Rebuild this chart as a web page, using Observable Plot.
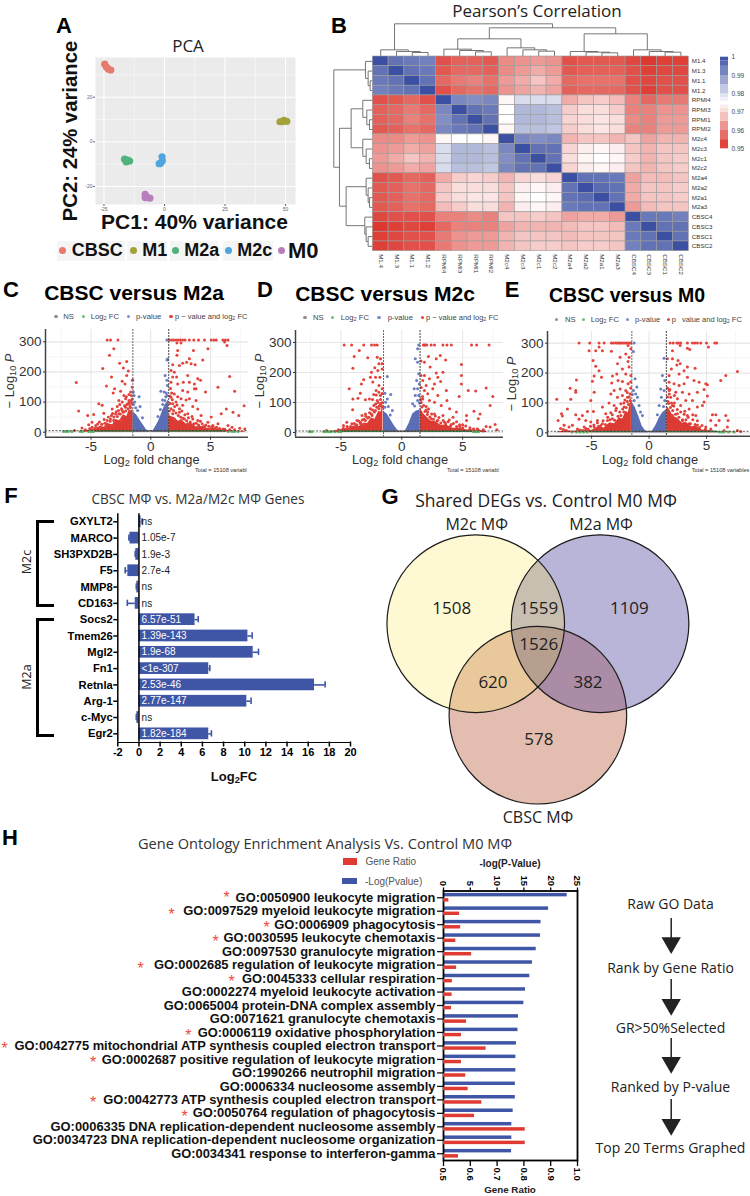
<!DOCTYPE html>
<html><head><meta charset="utf-8">
<script src="https://cdn.jsdelivr.net/npm/d3@7"></script>
<script src="https://cdn.jsdelivr.net/npm/@observablehq/plot@0.6"></script>
<style>
html,body{margin:0;padding:0;background:#fff}
#page{position:relative;width:750px;height:1196px;overflow:hidden;background:#fff;font-family:"Liberation Sans",Arial,sans-serif}
.t{position:absolute;white-space:nowrap;line-height:1.1}
sub{font-size:.72em;vertical-align:-.25em;line-height:0}
</style></head><body><div id="page"></div>
<script>
// ---------- A: PCA ----------
const pcaGroups=["CBSC","M1","M2a","M2c","M0"];
const pcaColors=["#e8796e","#a3a23a","#50b27c","#4fa6df","#b87fbc"];
const pcaCBSC=[[-24.7,34.8],[-24,33.5],[-23.2,32.6],[-22.2,32.2]];
const pcaM1=[[47.7,9],[48.6,9],[49.3,9.6],[50.5,9.2]];
const pcaM2a=[[-16.5,-7.8],[-15.8,-9],[-15.2,-8.2],[-14.4,-8.6]];
const pcaM2c=[[-2.2,-9.8],[-1.5,-9.5],[-0.9,-8.5],[-1,-6.7]];
const pcaM0=[[-8,-23.5],[-8,-25],[-7,-25],[-6,-25.2]];
// ---------- B: correlation ----------
const heatLabels=["M1.4","M1.3","M1.1","M1.2","RPMI4","RPMI3","RPMI1","RPMI2","M2c4","M2c3","M2c1","M2c2","M2a4","M2a2","M2a1","M2a3","CBSC4","CBSC3","CBSC1","CBSC2"];
const heatRows=[
[1000,995,994,993,954,956,956,955,961,962,963,962,954,955,955,955,953,951,952,952],
[995,1000,995,994,955,957,957,956,961,963,965,963,955,956,956,956,954,952,953,953],
[994,995,1000,995,957,959,960,958,963,965,968,965,957,958,958,958,954,953,954,954],
[993,994,995,1000,954,957,958,957,962,964,966,964,956,957,957,957,954,952,954,954],
[954,955,957,954,1000,992,991,992,974,980,980,980,965,968,969,967,960,957,959,959],
[956,957,959,957,992,1000,995,994,975,985,985,984,969,971,971,969,960,960,962,962],
[956,957,960,958,991,995,1000,995,975,985,985,984,970,971,972,971,961,960,963,963],
[955,956,958,957,992,994,995,1000,974,984,984,983,969,971,972,971,960,960,963,963],
[961,961,963,962,974,975,975,974,1000,992,991,992,966,968,968,966,968,964,966,966],
[962,963,965,964,980,985,985,984,992,1000,995,995,970,973,974,973,968,966,968,968],
[963,965,968,966,980,985,985,984,991,995,1000,995,971,974,975,974,969,966,968,969],
[962,963,965,964,980,984,984,983,992,995,995,1000,970,973,974,973,968,966,968,969],
[954,955,957,956,965,969,970,969,966,970,971,970,1000,995,995,994,964,967,967,968],
[955,956,958,957,968,971,971,971,968,973,974,973,995,1000,996,995,965,968,968,969],
[955,956,958,957,969,971,972,972,968,974,975,974,995,996,1000,995,965,968,968,969],
[955,956,958,957,967,969,971,971,966,973,974,973,994,995,995,1000,963,967,968,968],
[953,954,954,954,960,960,961,960,968,968,969,968,964,965,965,963,1000,994,994,993],
[951,952,953,952,957,960,960,960,964,966,966,966,967,968,968,967,994,1000,995,995],
[952,953,954,954,959,962,963,963,966,968,968,968,967,968,968,968,994,995,1000,995],
[952,953,954,954,959,962,963,963,966,968,969,969,968,969,969,968,993,995,995,1000]];
// merges: [posA, posB, height of the join, height of A, height of B]
const colTree=[[2.5,3.5,12,0,0],[1.5,3,15,0,12],[.5,2.25,20,0,15],[6.5,7.5,14,0,0],[5.5,7,18,0,14],[4.5,6.25,22,0,18],[10.5,11.5,16,0,0],[9.5,11,20,0,16],[8.5,10.25,26,0,20],[14.5,15.5,11,0,0],[13.5,15,13,0,11],[12.5,14.25,15,0,13],[18.5,19.5,13,0,0],[17.5,19,15,0,13],[16.5,18.25,20,0,15],[5.375,9.375,53,22,26],[13.375,17.375,68,15,20],[7.375,15.375,86,53,68],[1.375,11.375,98,20,86]];
const rowTree=[[2.5,3.5,8,0,0],[1.5,3,14,0,8],[.5,2.25,22,0,14],[6.5,7.5,10,0,0],[5.5,7,18,0,10],[4.5,6.25,30,0,18],[10.5,11.5,10,0,0],[9.5,11,20,0,10],[8.5,10.25,30,0,20],[14.5,15.5,10,0,0],[13.5,15,14,0,10],[12.5,14.25,20,0,14],[18.5,19.5,14,0,0],[17.5,19,20,0,14],[16.5,18.25,24,0,20],[5.375,9.375,65,30,30],[13.375,17.375,80,20,24],[7.375,15.375,100,65,80],[1.375,11.375,117,22,100]];
const barStops=[.95,.955,.96,.965,.97,.972,.974,.976,.978,.98,.985,.99,.995,.998,1];
// ---------- C: CBSC vs M2a ----------
const cTopX=[-3.65,-3.37,-2.75,1.55,1.74,1.91,2.11,2.3,2.47,2.67,2.87,3.23,3.6,3.99,4.49,5.06,5.28,5.48,6.04,6.24,6.46];
const cRed=[[-3.09,277],[-3.46,255],[-2.02,235],[-2.61,229],[-4.02,211],[-1.88,203],[-2.3,213],[-6.24,165],[-3.29,183],[-2.02,188],[-2.39,169],[-3.71,153],[-3.03,144],[-2.16,160],[-1.55,172],[-1.55,149],[-3.15,130],[-2.53,136],[-1.69,133],[-2.25,122],[-1.83,125],[-4.35,94],[-4.07,89],[-6.04,70],[-2.67,105],[-2.39,100],[-2.11,111],[-1.83,105],[-1.63,122],[-2.81,85],[-3.23,77],[-3.93,63],[-4.78,59],[-5.28,55],[-4.92,33],[-5.2,25],[-5.48,8],[-6.38,6],[-5.76,14],[-3.65,39],[-3.37,44],[-3.09,50],[-2.67,61],[-2.39,72],[-2.11,83],[-1.91,94],[-3.31,22],[-4.21,17],[-3.79,19],[-4.63,14],[-2.53,39],[-3.85,30],[-3.05,36],[-2.9,68],[-1.75,88],[-4.45,27],
[6.18,299],[6.38,288],[2.19,296],[2.53,296],[2.25,271],[2.19,255],[3.57,271],[4.78,277],[3.23,244],[4.35,240],[3,232],[2.67,229],[1.83,224],[2.39,221],[3.37,227],[3.71,224],[1.69,205],[1.97,199],[6.6,185],[2.16,183],[1.83,183],[3.09,188],[3.93,177],[1.69,166],[2.25,160],[2.72,166],[3.23,166],[3.65,160],[4.16,172],[5.62,149],[7.02,136],[7.81,88],[4.58,133],[3.65,144],[3.79,144],[2.67,138],[3.09,133],[1.97,127],[1.69,116],[2.25,118],[2.53,111],[2.95,107],[3.23,111],[3.79,105],[1.83,94],[2.11,100],[2.67,89],[3.51,85],[3.93,77],[6.32,77],[5.9,61],[6.88,66],[7.36,55],[5.06,50],[4.21,55],[3.09,61],[2.39,66],[1.83,61],[2.81,44],[3.51,44],[3.93,39],[4.78,33],[5.62,28],[6.46,22],[7.44,13],[7.87,11],[7.02,8],[4.49,19],[5.34,14],[3.93,17],[6.04,11],[4.92,11],[3.09,28],[2.53,39],[1.97,44],[4.3,28],[5.2,22],[6.8,16],[5.8,6]];
const cRedDense=[[-1.6,95],[-1.7,82],[-1.8,98],[-1.9,78],[-2,92],[-2.1,70],[-2.2,88],[-2.3,66],[-2.45,78],[-2.55,60],[-2.7,72],[-2.8,52],[-2.95,60],[-3.1,40],[-3.2,62],[-3.4,36],[-3.55,50],[-3.7,28],[-3.9,42],[-4.1,26],[-4.3,34],[-4.6,22],[-4.9,16],[-5.1,12],[-1.55,110],[-1.65,105],[-2.05,118],[-2.6,92],[-3.3,55],
[1.6,95],[1.7,78],[1.75,130],[1.8,108],[1.9,72],[2,85],[2.1,64],[2.2,90],[2.3,55],[2.4,78],[2.5,50],[2.6,70],[2.7,46],[2.85,58],[3,38],[3.15,48],[3.3,34],[3.45,52],[3.6,28],[3.8,30],[4,24],[4.15,36],[4.4,18],[4.6,24],[4.85,20],[5.1,18],[5.5,16],[5.75,12],[6.2,10],[6.6,8],[1.55,70],[1.6,120],[1.65,145]];
const cBlue=[[1.35,306],[1.35,240],[1.4,243],[1.2,188],[1.35,172],[1.4,155],[.84,136],[1.12,133],[1.26,118],[.98,107],[1.18,105],[1.35,122],[-1.46,133],[-1.4,122],[-.98,118],[-1.35,100],[-.9,85],[-1.26,81],[-1.5,174],[-1.45,92],[-1.1,72],[-.7,48],[.6,52],[.8,75],[1,92],[1.3,130]];
const cBlueEnv=[[-1.5,68],[-1.2,58],[-.9,40],[-.6,22],[-.4,10],[-.2,3],[-.05,0],[.05,0],[.2,5],[.4,18],[.6,32],[.8,50],[1,72],[1.2,90],[1.5,108]];
const cRedEnvL=[[-6,2],[-5.5,4],[-5,9],[-4.6,12],[-4.2,20],[-3.9,16],[-3.5,28],[-3.2,24],[-2.9,42],[-2.6,38],[-2.3,58],[-2,52],[-1.8,74],[-1.6,70],[-1.5,82]];
const cRedEnvR=[[1.5,58],[1.7,52],[2,48],[2.3,36],[2.6,40],[3,26],[3.4,30],[3.8,17],[4.2,20],[4.8,12],[5.3,14],[6,7],[7,3],[7.9,2]];
const cGreenX=[-7.3,-7.1,-6.9,-6.6,-5.9,-5.7,-5.2,-5,-4.8,7,7.3,6.8,6.5];
// ---------- D: CBSC vs M2c ----------
const dTopX=[-4.74,-4.13,-3.13,-2.49,-2.24,-2.02,1.77,1.86,1.94,2.05,2.41,2.69,3.38,3.71,4.07,5.73,6.15,7.17];
const dRed=[[-3.49,273],[-3.91,253],[-2.8,249],[-2.02,251],[-1.75,246],[-1.61,229],[-1.88,229],[-4.02,214],[-2.22,216],[-1.97,207],[-2.49,201],[-1.61,212],[-2.58,184],[-2.16,184],[-1.8,184],[-3.13,176],[-3.32,162],[-2.38,168],[-4.32,146],[-1.88,157],[-2.11,140],[-1.61,146],[-3.41,131],[-2.3,127],[-1.88,134],[-1.75,123],[-4.02,112],[-3.6,114],[-2.99,109],[-2.66,112],[-2.02,107],[-4.04,76],[-2.3,90],[-1.75,96],[-2.58,79],[-2.99,62],[-3.27,57],[-4.52,34],[-4.79,23],[-5.07,7],[-6.18,7],[-4.1,29],[-3.68,40],[-3.41,34],[-2.71,51],[-2.16,73],[-1.88,79],[-1.61,84],[-5.48,4],[-4.38,12],[-2.99,40],[-2.44,57],[-3.8,22],[-3.1,27],
[3.16,257],[3.6,242],[2.83,246],[2.19,253],[1.58,238],[1.86,234],[4.9,227],[2.33,218],[2.83,198],[3.38,201],[1.58,190],[1.86,190],[2.27,179],[2.96,184],[3.19,170],[4.9,190],[4.9,162],[1.72,173],[2.69,162],[2,157],[2.55,146],[3.66,140],[5.46,140],[6.07,138],[6.93,148],[7.48,120],[4.71,120],[7.26,90],[1.86,140],[2.13,129],[2.96,123],[2.27,107],[1.72,112],[2.69,101],[3.71,107],[2,87],[3.24,90],[3.93,79],[4.49,68],[5.93,71],[6.43,62],[5.32,57],[6.29,46],[5.32,40],[4.21,51],[3.38,57],[2.69,62],[2.13,68],[7.26,18],[7.67,27],[6.93,20],[6.7,9],[7.81,9],[5.6,16],[4.76,20],[4.07,27],[3.52,34],[2.96,40],[2.41,46],[4.5,36],[3.9,42],[5,26],[6.2,12]];
const dRedDense=[[-1.6,100],[-1.7,90],[-1.75,110],[-1.85,88],[-1.95,100],[-2.05,84],[-2.15,95],[-2.25,68],[-2.4,75],[-2.5,62],[-2.65,66],[-2.8,48],[-2.95,54],[-3.1,44],[-3.25,42],[-3.4,30],[-3.55,38],[-3.7,26],[-3.9,30],[-4.2,20],[-4.5,20],[-4.8,14],[-5.2,9],[-1.6,130],[-2.1,125],[-2.4,110],
[1.6,100],[1.65,85],[1.7,120],[1.8,90],[1.9,70],[2,75],[2.1,60],[2.2,78],[2.3,52],[2.45,62],[2.6,44],[2.75,55],[2.9,38],[3.05,50],[3.2,32],[3.4,40],[3.6,28],[3.8,36],[4,22],[4.25,30],[4.5,20],[4.75,26],[5,16],[5.25,22],[5.6,10],[5.9,12],[6.3,8],[6.7,5],[1.55,110],[1.6,150]];
const dBlue=[[1.39,292],[1.3,279],[1.11,246],[1.3,234],[-1.19,187],[1.39,196],[1.22,173],[1.44,162],[1.02,146],[1.3,146],[1.11,123],[1.39,123],[1.3,107],[.89,96],[-1.39,131],[-.91,127],[-1.19,112],[-1.33,101],[-1.11,87],[-.78,73],[-.95,58],[-1.4,84],[1.05,88],[1.45,98]];
const dBlueEnv=[[-1.5,70],[-1.2,62],[-.9,42],[-.6,22],[-.3,6],[-.05,0],[.05,0],[.3,6],[.6,30],[.9,62],[1.2,72],[1.5,75]];
const dRedEnvL=[[-6.5,2],[-5.5,5],[-4.9,11],[-4.4,14],[-3.9,22],[-3.5,20],[-3.1,32],[-2.8,30],[-2.5,48],[-2.2,44],[-1.9,70],[-1.7,68],[-1.55,92]];
const dRedEnvR=[[1.52,82],[1.8,62],[2.1,50],[2.4,38],[2.8,36],[3.2,24],[3.7,24],[4.2,14],[4.8,14],[5.4,8],[6,8],[7,3]];
const dGreenX=[-7.6,-7.4,-6.4,-6.2,-6,-5.8,-5.5,-5.2,-5,5.9,6.1,6.3];
// ---------- E: CBSC vs M0 ----------
const eTopX=[-6.09,-5.16,-4.35,-3.91,-3.28,-3.1,-2.9,-2.75,-2.61,-2.46,-2.32,-2.17,-2.03,-1.88,-1.74,-1.59,1.83,2.09,2.41,2.55,2.75,3.33,3.77,3.97,4.2,4.49,4.99,5.71,5.88];
const eRed=[[-5.22,275],[-4.64,275],[-4.35,287],[-4.06,275],[-3.28,273],[-1.83,292],[-1.59,281],[-2.03,264],[-2.52,253],[-1.74,253],[-4.87,242],[-2.75,231],[-1.83,239],[-4.64,223],[-4.35,208],[-2.32,214],[-1.74,220],[-4.78,190],[-2.81,197],[-3.19,190],[-2.03,197],[-1.59,192],[-6.32,177],[-4.14,186],[-4.93,173],[-2.7,175],[-3.25,167],[-2.32,172],[-1.83,164],[-6.87,149],[-6.38,142],[-6.38,136],[-4.78,136],[-3.04,142],[-2.52,147],[-2.03,142],[-6.81,112],[-8.03,112],[-5.07,108],[-3.33,130],[-2.75,119],[-2.32,125],[-1.88,119],[-1.65,108],[-7.1,80],[-7.62,64],[-7.54,56],[-7.91,41],[-6.38,60],[-5.36,71],[-4.84,71],[-5.8,58],[-6.09,45],[-4.06,86],[-3.48,100],[-3.04,91],[-2.46,97],[-2.17,86],[-3.77,64],[-3.33,67],[-2.9,75],[-5.51,41],[-5.07,36],[-4.49,41],[-4.06,30],[-7.39,25],[-6.96,19],[-6.67,25],[-7.45,11],[-6.23,13],[-5.65,19],[-4.78,19],[-3.62,41],[-3.19,47],[-4.4,22],[-5.3,12],[-7.7,14],[-7.2,8],
[5.16,287],[2.7,292],[3.33,283],[3.54,279],[2.03,275],[2.03,248],[1.59,248],[2.52,242],[2.7,231],[2.41,227],[1.94,214],[3.33,220],[4,216],[3.04,208],[1.74,192],[2.61,197],[3.33,186],[7.68,205],[6.67,192],[6.23,175],[4.93,164],[5.07,161],[3.91,175],[4.35,169],[1.74,169],[2.17,164],[2.61,158],[3.04,164],[4.78,145],[4.2,136],[1.74,142],[2.32,136],[2.9,136],[3.48,130],[5.07,123],[4.78,103],[4.64,91],[1.88,119],[2.46,114],[3.19,108],[3.77,108],[2.03,91],[2.75,91],[3.48,80],[4.2,86],[5.51,60],[5.8,60],[6.67,58],[5.36,41],[6.09,41],[6.87,41],[4.06,58],[3.33,58],[2.46,64],[2.03,58],[5.8,25],[6.81,19],[7.68,8],[7.97,4],[6.52,8],[5.36,13],[4.93,19],[4.2,25],[3.48,30],[2.9,41],[3.1,72],[2.2,100],[1.7,98],[3.8,44]];
const eRedDense=[[-1.6,150],[-1.65,130],[-1.75,120],[-1.8,95],[-1.9,105],[-2,85],[-2.1,110],[-2.2,70],[-2.3,80],[-2.45,58],[-2.55,70],[-2.7,55],[-2.85,82],[-3,42],[-3.2,60],[-3.4,44],[-3.6,52],[-3.8,28],[-4,40],[-4.2,24],[-4.5,34],[-4.8,26],[-5.1,22],[-5.5,14],[-6,9],[-1.6,170],[-1.9,135],[-2.2,100],
[1.6,120],[1.65,105],[1.75,130],[1.85,85],[1.95,100],[2.05,75],[2.15,90],[2.3,62],[2.45,78],[2.6,52],[2.75,70],[2.9,44],[3.05,62],[3.2,44],[3.4,52],[3.6,30],[3.8,60],[4,28],[4.2,40],[4.4,18],[4.6,24],[4.9,12],[1.6,150],[1.8,145],[2.2,125]];
const eBlue=[[-1.3,301],[-1.36,272],[-1.22,181],[-1.07,153],[-1.36,142],[-1.16,130],[-1.01,119],[-1.3,108],[-.87,91],[-.58,58],[1.3,250],[1.16,192],[1.36,175],[1.01,147],[1.3,142],[1.07,119],[1.36,108],[.87,91],[-1.45,128],[-.75,70],[.72,60],[1.25,88]];
const eBlueEnv=[[-1.54,105],[-1.2,85],[-.9,55],[-.6,22],[-.3,6],[-.03,0],[.03,0],[.3,6],[.6,25],[.9,50],[1.2,68],[1.54,78]];
const eRedEnvL=[[-8,2],[-7.3,7],[-6.5,5],[-5.7,10],[-5,8],[-4.4,20],[-3.9,16],[-3.4,34],[-3,30],[-2.6,50],[-2.3,46],[-2,72],[-1.8,66],[-1.54,125]];
const eRedEnvR=[[1.54,90],[1.8,76],[2.1,55],[2.5,48],[2.9,32],[3.2,36],[3.7,20],[4.1,22],[4.6,9],[5.2,8],[6,4],[7.5,2]];
const eGreenX=[-6.7,-6.3,-6,-5.7,-5.4,6.1,6.3,6.5,6.9,7.4];
// ---------- F: gene bars ----------
const fGenes=["GXYLT2","MARCO","SH3PXD2B","F5","MMP8","CD163","Socs2","Tmem26","Mgl2","Fn1","Retnla","Arg-1","c-Myc","Egr2"];
const fValues=[.2,-.85,-.3,-1.05,-.2,-.35,5.3,10.3,10.8,6.6,16.6,10.2,-.2,6.6];
const fErrors=[.3,-.95,-.35,-1.3,-.25,-1.1,5.6,10.7,11.3,6.7,17.6,10.6,-.25,6.85];
const fPvals=["ns","1.05e-7","1.9e-3","2.7e-4","ns","ns","6.57e-51","1.39e-143","1.9e-68","<1e-307","2.53e-46","2.77e-147","ns","1.82e-184"];
const fTicks=[-2,0,2,4,6,8,10,12,14,16,18,20];
// ---------- G: Venn ----------
const vennSets=[["M2c",0,0],["M2a",1.4,0],["CBSC",.7,1.03]];
const vennCounts=[[1508,-.27,-.17],[1559,.71,-.17],[1109,1.73,-.17],[1526,.71,.236],[620,.194,.665],[382,1.264,.665],[578,.71,1.303]];
const vennFills=["#ffffff","#fef9d3","#b8b5d8","#c8bfb1","#e2bdb0","#e9c99b","#ab8ca6","#b79f90"];
// ---------- H: GO terms ----------
const goTerms=["GO:0050900 leukocyte migration","GO:0097529 myeloid leukocyte migration","GO:0006909 phagocytosis","GO:0030595 leukocyte chemotaxis","GO:0097530 granulocyte migration","GO:0002685 regulation of leukocyte migration","GO:0045333 cellular respiration","GO:0002274 myeloid leukocyte activation","GO:0065004 protein-DNA complex assembly","GO:0071621 granulocyte chemotaxis","GO:0006119 oxidative phosphorylation","GO:0042775 mitochondrial ATP synthesis coupled electron transport","GO:0002687 positive regulation of leukocyte migration","GO:1990266 neutrophil migration","GO:0006334 nucleosome assembly","GO:0042773 ATP synthesis coupled electron transport","GO:0050764 regulation of phagocytosis","GO:0006335 DNA replication-dependent nucleosome assembly","GO:0034723 DNA replication-dependent nucleosome organization","GO:0034341 response to interferon-gamma"];
const goNegLogP=[23.07,19.6,18.2,18.1,17.3,16.6,16.1,15.3,15,14,13.9,13.6,13.5,13.5,13.4,13.4,13,12.75,12.75,12.7];
const goGeneRatio=[.52,.56,.564,.546,.605,.549,.533,.532,.53,.586,.567,.659,.567,.583,.592,.643,.616,.805,.805,.556];
const goStarRows=[0,1,2,3,5,6,10,11,12,15,16];
const goStarX=[226.6,171.5,266.7,215.5,140.5,231.5,188.3,4.6,93,93,184.5];
const flowSteps=["Raw GO Data","Rank by Gene Ratio","GR>50%Selected","Ranked by P-value","Top 20 Terms Graphed"];

const page=document.getElementById("page");
const OS='"Open Sans",sans-serif',LS='"Liberation Sans",Arial,sans-serif';
function label(html,x,y,o={}){
  const d=document.createElement("div");d.className="t";d.innerHTML=html;
  const a=o.anchor==="start"?"0":o.anchor==="end"?"-100%":"-50%";
  d.style.cssText+=`left:${x}px;top:${y}px;font-size:${o.size||12}px;font-weight:${o.weight||"normal"};color:${o.color||"#222"};font-family:${o.font||LS};transform:translate(${a},-50%)${o.rotate?` rotate(${o.rotate}deg)`:""};`;
  if(o.lh)d.style.lineHeight=o.lh;
  page.appendChild(d);return d;
}
function dotEl(x,y,r,c){const d=document.createElement("div");d.style.cssText=`position:absolute;left:${x-r}px;top:${y-r}px;width:${2*r}px;height:${2*r}px;border-radius:50%;background:${c}`;page.appendChild(d);}
function boxEl(x,y,w,h,css){const d=document.createElement("div");d.style.cssText=`position:absolute;left:${x}px;top:${y}px;width:${w}px;height:${h}px;${css}`;page.appendChild(d);}
function mount(x,y,opts){
  const svg=Plot.plot({...opts,style:{background:"transparent",overflow:"hidden",fontFamily:LS,...(opts.style||{})}});
  svg.style.position="absolute";svg.style.left=x+"px";svg.style.top=y+"px";svg.style.maxWidth="none";
  page.appendChild(svg);return svg;
}
// panel letters
[["A",64,26],["B",339,26],["C",11,290],["D",265,290],["E",512,290],["F",11,496],["G",390,497],["H",10,838]].forEach(([s,x,y])=>label(s,x,y,{size:22,weight:"bold",color:"#000"}));

// ---------- A ----------
const pcaTable=[pcaCBSC,pcaM1,pcaM2a,pcaM2c,pcaM0].flatMap((pts,i)=>pts.map(([x,y])=>({x,y,g:pcaGroups[i]})));
mount(70,50,{width:235,height:168,marginLeft:25,marginRight:10,marginTop:7,marginBottom:14,
  x:{domain:[-28.5,54.1],axis:null},y:{domain:[-28.1,37.8],axis:null},
  color:{domain:pcaGroups,range:pcaColors},
  marks:[Plot.frame({fill:"#ebebeb"}),
    Plot.ruleX([-12.5,12.5,37.5],{stroke:"#fff",strokeWidth:.5}),Plot.ruleY([-10,10,30],{stroke:"#fff",strokeWidth:.5}),
    Plot.ruleX([-25,0,25,50],{stroke:"#fff",strokeWidth:1}),Plot.ruleY([-20,0,20],{stroke:"#fff",strokeWidth:1}),
    Plot.dot(pcaTable,{x:"x",y:"y",fill:"g",r:3.6}),
    Plot.axisX({ticks:[-25,0,25,50],tickSize:2,tickPadding:1,fontSize:5,color:"#666",label:null,tickFormat:d=>String(d)}),
    Plot.axisY({ticks:[-20,0,20],tickSize:2,tickPadding:1,fontSize:5,color:"#666",label:null,tickFormat:d=>String(d)})]});
label("PCA",188,46,{size:17,font:OS});
label("PC2: 24% variance",70,131,{size:20.3,weight:"bold",color:"#111",rotate:-90});
label("PC1: 40% variance",194.5,222,{size:21,weight:"bold",color:"#111"});
boxEl(57,241,68,20,"background:#f5f5f5");boxEl(127,241,40,20,"background:#f5f5f5");boxEl(170,241,48,20,"background:#f5f5f5");boxEl(223,241,50,20,"background:#f5f5f5");
[[62.7,71.7,18],[133.3,142.3,18],[175.7,184.3,18],[228.7,237.3,18],[281.7,288,22]].forEach(([dx,tx,sz],i)=>{
  dotEl(dx,250.5,3.5,pcaColors[i]);
  label(pcaGroups[i],tx,251,{size:sz,weight:"bold",color:"#111",anchor:"start"});
});

// ---------- B ----------
const cells=heatRows.flatMap((row,r)=>row.map((v,c)=>({r,c,v:v/1000})));
const heatColor={type:"linear",domain:[.95,.975,1],range:["#db2f27","#ffffff","#3b4fa3"]};
const colX=15.8,rowY=9.73,zoomK=3;
const colLinks=colTree.flatMap(([a,b,h,ha,hb])=>[[a,ha,a,h],[a,h,b,h],[b,hb,b,h]]).map(([p1,h1,p2,h2])=>({x1:p1,y1:-h1/zoomK/rowY,x2:p2,y2:-h2/zoomK/rowY}));
const rowLinks=rowTree.flatMap(([a,b,h,ha,hb])=>[[a,ha,a,h],[a,h,b,h],[b,hb,b,h]]).map(([p1,h1,p2,h2])=>({y1:p1,x1:-h1/zoomK/colX,y2:p2,x2:-h2/zoomK/colX}));
mount(325,15,{width:425,height:265,marginLeft:47.3,marginRight:61.7,marginTop:41,marginBottom:29.3,
  x:{domain:[0,20],axis:null},y:{domain:[20,0],axis:null},color:heatColor,
  marks:[
    Plot.link(colLinks,{x1:"x1",y1:"y1",x2:"x2",y2:"y2",stroke:"#666",strokeWidth:.9}),
    Plot.link(rowLinks,{x1:"x1",y1:"y1",x2:"x2",y2:"y2",stroke:"#666",strokeWidth:.9}),
    Plot.rect(cells,{x1:d=>d.c,x2:d=>d.c+1,y1:d=>d.r,y2:d=>d.r+1,fill:"v",stroke:"#9c9c9c",strokeWidth:.6}),
    Plot.text(heatLabels,{x:20,y:(d,i)=>i+.5,text:d=>d,dx:3,textAnchor:"start",fontSize:6.2,fill:"#333"}),
    Plot.text(heatLabels,{x:(d,i)=>i+.5,y:20,text:d=>d,dy:3,rotate:90,textAnchor:"start",fontSize:6.2,fill:"#333"})]});
const barSegs=d3.pairs(barStops);
mount(715,50,{width:35,height:105,marginLeft:5,marginRight:22,marginTop:6.7,marginBottom:6.7,
  x:{domain:[0,1],axis:null},y:{domain:[.95,1],axis:null},color:heatColor,
  marks:[
    Plot.rect(barSegs,{x1:0,x2:1,y1:d=>d[0],y2:d=>d[1],fill:d=>(d[0]+d[1])/2}),
    Plot.axisY({anchor:"right",ticks:[.95,.96,.97,.98,.99,1],tickSize:0,tickPadding:3,fontSize:6.5,color:"#444",label:null,tickFormat:d=>String(d)})]});
label("Pearson’s Correlation",537,11,{size:17,font:OS});

// ---------- C D E volcanoes ----------
const gridMinX=[-7.5,-2.5,2.5,7.5],gridMajX=[-5,0,5],gridMinY=[50,150,250],gridMajY=[0,100,200,300];
function volcano(c){
  const ppx=(c.x5-c.xm5)/10,ppy=(c.y0-c.y300)/300;
  const xd=[(c.spine-c.x0)/ppx,(c.right-c.x0)/ppx],yd=[(c.y0-c.bottom)/ppy,(c.y0-c.top)/ppy];
  const dot=(data,fill,r=1.5)=>Plot.dot(data,{x:d=>d[0],y:d=>d[1],fill,r,clip:true,stroke:"none"});
  const area=(data,fill)=>Plot.areaY(data,{x:d=>d[0],y:d=>d[1],fill,clip:true});
  mount(c.spine-45,c.top,{width:c.right-c.spine+45,height:c.bottom-c.top+24,marginLeft:45,marginRight:0,marginTop:0,marginBottom:24,
    x:{domain:xd,axis:null},y:{domain:yd,axis:null},
    marks:[
      Plot.ruleX(gridMinX.filter(v=>v>xd[0]&&v<xd[1]),{stroke:"#f2f2f2",strokeWidth:.8}),Plot.ruleY(gridMinY,{stroke:"#f2f2f2",strokeWidth:.8}),
      Plot.ruleX(gridMajX,{stroke:"#e6e6e6",strokeWidth:1}),Plot.ruleY(gridMajY,{stroke:"#e6e6e6",strokeWidth:1.2}),
      area(c.blueEnv,"#5a6eb6"),area(c.redL,"#dc3a32"),area(c.redR,"#dc3a32"),
      dot(c.blue,"#6a7dc2"),dot(c.top_.map(x=>[x,c.topY]),"#e4433c"),dot(c.red,"#e4433c"),dot(c.dense,"#e0403a"),
      Plot.rect([[-1.5,1.5]],{x1:d=>d[0],x2:d=>d[1],y1:0,y2:5,fill:"#5f5f5f"}),
      Plot.rect(c.greenBand,{x1:d=>d[0],x2:d=>d[1],y1:0,y2:5,fill:"#3f8048"}),
      dot(c.green.map(x=>[x,2.5]),"#5db36a"),
      Plot.ruleY([5],{stroke:"#333",strokeWidth:.8,strokeDasharray:"2,1.5"}),
      Plot.ruleX([-1.5],{stroke:"#666",strokeWidth:1,strokeDasharray:"2,1"}),
      Plot.ruleX([1.5],{stroke:"#444",strokeWidth:1,strokeDasharray:"2,1"}),
      Plot.ruleX([xd[0]],{stroke:"#444",strokeWidth:1.5}),Plot.ruleY([yd[0]],{stroke:"#444",strokeWidth:1.5}),
      Plot.axisX({ticks:[-5,0,5],tickSize:3,tickPadding:1,fontSize:13.5,color:"#333",label:null,tickFormat:d=>String(d)}),
      Plot.axisY({ticks:[0,100,200,300],tickSize:2,tickPadding:2,fontSize:13.5,color:"#333",label:null,tickFormat:d=>String(d)})]});
  label(c.title,c.titleX,c.titleY,{size:c.titleSize,weight:"bold",color:"#000"});
  const [lg,ly]=[c.legend,c.legendY];
  ["#8f8f8f","#6cbf78","#7b8dc9","#e4433c"].forEach((col,i)=>dotEl(lg[i*2],ly,1.7,col));
  [c.ns,"Log<sub>2</sub> FC","p-value",c.both].forEach((s,i)=>label(s,lg[i*2+1],ly,{size:i==3?7.5:7.7,color:"#444",anchor:"start"}));
  label("Log<sub>2</sub> fold change",c.labelX,460,{size:12.8,color:"#333"});
  label("− Log<sub>10</sub> <i>P</i>",c.spine-35,c.ylabY,{size:12.8,color:"#333",rotate:-90});
  label(c.foot,c.footX,470,{size:5.6,color:"#333",anchor:"start"});
}
const bothTxt="p − value and log<sub>2</sub> FC";
volcano({spine:44.7,right:248,xm5:90,x0:150,x5:209.5,y0:431.7,y300:341.3,top:329,bottom:436.7,topY:306,top_:cTopX,red:cRed,dense:cRedDense,blue:cBlue,blueEnv:cBlueEnv,redL:cRedEnvL,redR:cRedEnvR,green:cGreenX,greenBand:[[-4.6,-1.5],[1.5,6.3]],title:"CBSC versus M2a",titleX:134,titleY:292.5,titleSize:21,legend:[56,63.3,83.3,90.7,128.3,136,171,175],legendY:316.7,ns:"NS",both:bothTxt,labelX:151.5,ylabY:381,footX:195,foot:"Total = 15108 variabl"});
volcano({spine:294.7,right:503,xm5:340,x0:401,x5:461.7,y0:432,y300:342,top:330,bottom:436.7,topY:292,top_:dTopX,red:dRed,dense:dRedDense,blue:dBlue,blueEnv:dBlueEnv,redL:dRedEnvL,redR:dRedEnvR,green:dGreenX,greenBand:[[-5,-1.5],[1.5,5.8]],title:"CBSC versus M2c",titleX:385,titleY:293.5,titleSize:21,legend:[305,313,332.7,340.7,379,387.7,422.3,426],legendY:317.7,ns:"NS",both:bothTxt,labelX:400,ylabY:381,footX:447,foot:"Total = 15108 variabl"});
volcano({spine:546.7,right:750,xm5:590.7,x0:648.3,x5:705.7,y0:432.3,y300:342.7,top:331,bottom:435.7,topY:301,top_:eTopX,red:eRed,dense:eRedDense,blue:eBlue,blueEnv:eBlueEnv,redL:eRedEnvL,redR:eRedEnvR,green:eGreenX,greenBand:[[-5.2,-1.54],[1.54,6]],title:"CBSC versus M0",titleX:627,titleY:296,titleSize:19.5,legend:[556.7,565,583.3,590.7,627.3,635,668.3,671.7],legendY:319.7,ns:"NS",both:"p &nbsp; value and log<sub>2</sub> FC",labelX:650,ylabY:384,footX:691.7,foot:"Total = 15108 variables"});

// ---------- F ----------
const fTable=fGenes.map((g,i)=>({g,v:fValues[i],e:fErrors[i],p:fPvals[i]}));
const inside=d=>d.v>3;
mount(0,505,{width:360,height:262,marginLeft:117.3,marginRight:10,marginTop:8.15,marginBottom:25.5,
  x:{domain:[-2,20],axis:null},y:{domain:fGenes,axis:null,padding:0,round:false},
  marks:[
    Plot.barX(fTable,{y:"g",x1:0,x2:"v",fill:"#3f55a5",insetTop:2.3,insetBottom:2.3}),
    Plot.ruleY(fTable,{y:"g",x1:"v",x2:"e",stroke:"#3f55a5",strokeWidth:1.6}),
    Plot.tickX(fTable,{y:"g",x:"e",stroke:"#3f55a5",strokeWidth:1.6,insetTop:5,insetBottom:5}),
    Plot.text(fTable.filter(inside),{y:"g",x:.25,text:"p",textAnchor:"start",fill:"#fff",fontSize:10}),
    Plot.text(fTable.filter(d=>!inside(d)),{y:"g",x:.25,text:"p",textAnchor:"start",fill:"#222",fontSize:10}),
    Plot.ruleX([0],{stroke:"#000",strokeWidth:1.5}),
    Plot.ruleX([-2],{stroke:"#000",strokeWidth:1.5}),
    Plot.axisX({ticks:fTicks,tickSize:5,tickPadding:1,fontSize:11,fontWeight:"bold",color:"#000",label:null,tickFormat:d=>String(d),strokeWidth:1.5}),
    Plot.axisY({tickSize:4,tickPadding:1,fontSize:11.2,fontWeight:"bold",color:"#000",label:null,strokeWidth:1.5})]});
boxEl(117,741.7,233,0,"border-top:1.6px solid #000");
label("CBSC MΦ vs. M2a/M2c MΦ Genes",198,499,{size:13.6,font:OS,color:"#333"});
label("Log<sub>2</sub>FC",234,777,{size:13,weight:"bold",color:"#111"});
boxEl(36,520,15,81,"border:solid #000;border-width:3px 0 3px 3px");
boxEl(36,618,15,113,"border:solid #000;border-width:3px 0 3px 3px");
label("M2c",27,562,{size:12.5,font:OS,color:"#222",rotate:-90});
label("M2a",27,677,{size:12.5,font:OS,color:"#222",rotate:-90});

// ---------- G ----------
const inC=(x,y,s)=>(x-s[1])**2+(y-s[2])**2<=1;
mount(382.3,529.8,{width:310.8,height:279.7,margin:0,
  x:{domain:[-1.05,2.45],axis:null},y:{domain:[2.1,-1.05],axis:null},
  color:{type:"ordinal",domain:[0,1,2,3,4,5,6,7],range:vennFills},
  marks:[
    Plot.raster({fill:(x,y)=>(inC(x,y,vennSets[0])?1:0)+(inC(x,y,vennSets[1])?2:0)+(inC(x,y,vennSets[2])?4:0),x1:-1.05,x2:2.45,y1:2.1,y2:-1.05,pixelSize:1}),
    Plot.dot(vennSets,{x:d=>d[1],y:d=>d[2],r:88.8,fill:"none",stroke:"#1c1c1c",strokeWidth:1.2}),
    Plot.text(vennCounts,{x:d=>d[1],y:d=>d[2],text:d=>String(d[0]),fontSize:17,fontFamily:OS,fill:"#222"})]});
label("Shared DEGs vs. Control M0 MΦ",546,501,{size:17.5,font:OS,color:"#222"});
label("M2c MΦ",476.7,525,{size:16,font:OS,color:"#222"});
label("M2a MΦ",601,525,{size:16,font:OS,color:"#222"});
label("CBSC MΦ",538,818,{size:16,font:OS,color:"#222"});

// ---------- H ----------
const goTable=goTerms.map((t,i)=>({t,p:goNegLogP[i],g:goGeneRatio[i]}));
const hBase={width:590,height:346,marginLeft:443,marginRight:13,marginTop:40.5,marginBottom:36,y:{domain:goTerms,axis:null,padding:0,round:false}};
mount(0,850,{...hBase,x:{domain:[0,25],axis:null},marks:[
  Plot.barX(goTable,{y:"t",x:"p",fill:"#3f55a5",insetTop:2.4,insetBottom:7.6}),
  Plot.frame({stroke:"#000",strokeWidth:1.8}),
  Plot.axisX({anchor:"top",ticks:[0,5,10,15,20,25],tickSize:4,tickPadding:1,tickRotate:90,fontSize:9.5,fontWeight:"bold",color:"#000",label:null,tickFormat:d=>String(d),strokeWidth:1.3}),
  Plot.axisY({tickSize:6,tickPadding:2,fontSize:12.9,fontWeight:"bold",color:"#111",label:null,strokeWidth:1.3,tickFormat:d=>d})]});
mount(0,850,{...hBase,x:{domain:[.5,1],axis:null},marks:[
  Plot.barX(goTable,{y:"t",x1:.5,x2:"g",fill:"#e03b33",insetTop:7.6,insetBottom:2.4}),
  Plot.axisX({anchor:"bottom",ticks:[.5,.6,.7,.8,.9,1],tickSize:6,tickPadding:1,tickRotate:90,fontSize:9.5,fontWeight:"bold",color:"#000",label:null,tickFormat:d3.format(".1f"),strokeWidth:1.3})]});
goStarRows.forEach((r,i)=>label("*",goStarX[i],897.3+r*13.47+(r==0?1:4),{size:16,color:"#ee4b40",lh:.4}));
label("Gene Ontology Enrichment Analysis Vs. Control M0 MΦ",325,843,{size:14.6,font:OS,color:"#333"});
boxEl(342.5,858,14.5,6.5,"background:#e03b33");boxEl(342,877.5,14.5,6.5,"background:#3f55a5");
label("Gene Ratio",365.5,861,{size:10,color:"#555",anchor:"start"});
label("-Log(Pvalue)",365,881,{size:10,color:"#555",anchor:"start"});
label("-log(P-Value)",510,863,{size:10,weight:"bold",color:"#222"});
label("Gene Ratio",510,1190,{size:9.8,weight:"bold",color:"#222"});

// flow
const flowTextY=[44,107.7,167.7,226.7,288];
const flowArrow=[[58,93.3],[119,155],[178,213],[239,275]];
mount(580,860,{width:170,height:336,margin:0,x:{domain:[0,170],axis:null},y:{domain:[336,0],axis:null},marks:[
  Plot.ruleX(flowArrow,{x:90.7,y1:d=>d[0],y2:d=>d[1]-8,stroke:"#222",strokeWidth:1.5}),
  Plot.dot(flowArrow,{x:90.7,y:d=>d[1]-11,symbol:"triangle",rotate:180,r:7.2,fill:"#222"}),
  Plot.text(flowSteps,{x:90,y:(d,i)=>flowTextY[i],text:d=>d,fontSize:14,fontFamily:OS,fill:"#222"})]});
</script></body></html>
